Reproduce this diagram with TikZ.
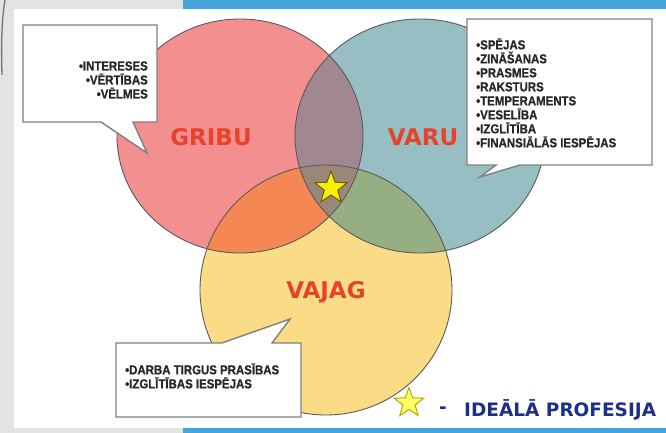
\documentclass[tikz,border=0pt]{standalone}
\usepackage{fontspec}
\setmainfont{Liberation Sans}
\newfontfamily\calfont[FakeStretch=0.88, FakeBold=0.6]{Liberation Sans}
\newfontfamily\lblfont{DejaVu Sans}
\usetikzlibrary{shapes.geometric}
\definecolor{bggray}{HTML}{E3E3E3}
\definecolor{slideblue}{HTML}{45A5DD}
\definecolor{cred}{HTML}{F48F8F}
\definecolor{cblue}{HTML}{96BEC3}
\definecolor{cyel}{HTML}{FADC87}
\definecolor{crb}{HTML}{A08791}
\definecolor{cry}{HTML}{F58755}
\definecolor{cby}{HTML}{96AF82}
\definecolor{crby}{HTML}{9B8778}
\definecolor{circline}{HTML}{5A5A5A}
\definecolor{calline}{HTML}{808080}
\definecolor{lblred}{HTML}{E5432B}
\definecolor{navy}{HTML}{1C2F8A}
\definecolor{staryel}{HTML}{F8F000}
\definecolor{staredge}{HTML}{6B6000}
\definecolor{legstar}{HTML}{FFFF66}
\definecolor{legedge}{HTML}{B8A800}
\tikzset{
  outline/.style={draw=circline, line width=0.9pt},
  callout/.style={draw=calline, fill=white, line width=1.4pt, line join=miter},
  caltext/.style={font=\calfont\bfseries\fontsize{13}{14}\selectfont, text=black!85, inner sep=0pt},
  circlabel/.style={font=\lblfont\bfseries\fontsize{23}{26}\selectfont, text=lblred, inner sep=0pt},
  legtext/.style={font=\lblfont\bfseries\fontsize{18.5}{20}\selectfont, text=navy, inner sep=0pt},
  starshape/.style={star, star points=5, star point ratio=2.4, inner sep=0pt, line width=1pt}
}
\def\redC{(240,136) ellipse [x radius=123pt, y radius=117pt]}
\def\blueC{(420,136) ellipse [x radius=125pt, y radius=117pt]}
\def\yelC{(326,290) ellipse [x radius=126pt, y radius=125pt]}
\begin{document}
\begin{tikzpicture}[x=1pt,y=-1pt]
\useasboundingbox (0,0) rectangle (666,433);
% slide background
\fill[bggray] (0,0) rectangle (666,433);
\fill[white] (14,9) rectangle (666,428);
\fill[slideblue] (183,0) rectangle (666,9);
\fill[slideblue] (183,428) rectangle (666,433);
\draw[black!55, line width=1.3pt] (5,0) .. controls (2,18) and (1,40) .. (2,75);
% circles
\fill[cred] \redC;
\fill[cblue] \blueC;
\fill[cyel] \yelC;
\begin{scope}\clip \redC; \fill[crb] \blueC; \end{scope}
\begin{scope}\clip \redC; \fill[cry] \yelC; \end{scope}
\begin{scope}\clip \blueC; \fill[cby] \yelC; \end{scope}
\begin{scope}\clip \redC; \clip \blueC; \fill[crby] \yelC; \end{scope}
\draw[outline] \redC;
\draw[outline] \blueC;
\draw[outline] \yelC;
% labels
\node[circlabel] (gribu) at (211,137) {GRIBU};
\node[circlabel] (varu) at (423,137) {VARU};
\node[circlabel] (vajag) at (326,292) {VAJAG};
\node[starshape, minimum size=34pt, fill=staryel, draw=staredge] (ideal) at (331,188) {};
% callouts
\draw[callout] (23,25) -- (157,25) -- (157,122) -- (133,122) -- (147,153) -- (101,122) -- (23,122) -- cycle;
\draw[callout] (467,19) -- (652,19) -- (652,165) -- (520,165) -- (480,177) -- (496,165) -- (467,165) -- cycle;
\draw[callout] (116,343) -- (222,343) -- (290,319) -- (272,343) -- (301,343) -- (301,417) -- (116,417) -- cycle;
\node[caltext, anchor=east, align=right] (gribulist) at (148,80) {•INTERESES\\•VĒRTĪBAS\\•VĒLMES};
\node[caltext, anchor=west, align=left] (varulist) at (476,93) {•SPĒJAS\\•ZINĀŠANAS\\•PRASMES\\•RAKSTURS\\•TEMPERAMENTS\\•VESELĪBA\\•IZGLĪTĪBA\\•FINANSIĀLĀS IESPĒJAS};
\node[caltext, anchor=west, align=left] (vajaglist) at (125,376) {•DARBA TIRGUS PRASĪBAS\\•IZGLĪTĪBAS IESPĒJAS};
% legend
\node[starshape, minimum size=31pt, fill=legstar, draw=legedge] (legstar) at (409,403) {};
\node[legtext] (dash) at (443,410) {-};
\node[legtext, anchor=west] (legend) at (464,410) {IDEĀLĀ PROFESIJA};
\end{tikzpicture}
\end{document}
